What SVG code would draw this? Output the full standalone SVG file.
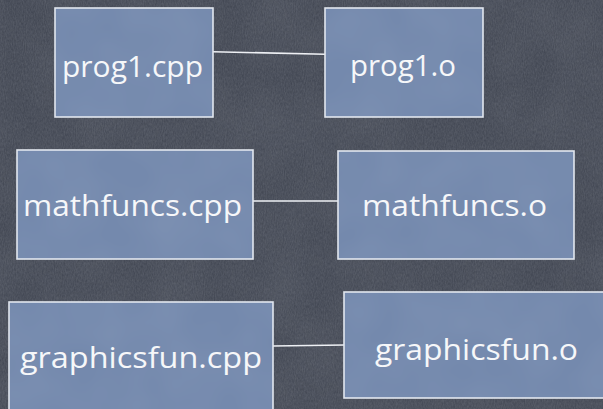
<svg xmlns="http://www.w3.org/2000/svg" width="603" height="409" viewBox="0 0 603 409">
  <defs>
    <!-- chalkboard grain -->
    <filter id="grain" x="0" y="0" width="100%" height="100%">
      <feTurbulence type="fractalNoise" baseFrequency="0.9 0.35" numOctaves="3" seed="4" result="n"/>
      <feColorMatrix in="n" type="matrix" values="0 0 0 0 0.82  0 0 0 0 0.85  0 0 0 0 0.9  0 0 0 0.16 -0.02"/>
    </filter>
    <filter id="mottle" x="0" y="0" width="100%" height="100%">
      <feTurbulence type="fractalNoise" baseFrequency="0.02" numOctaves="2" seed="9" result="m"/>
      <feColorMatrix in="m" type="matrix" values="0 0 0 0 0.95  0 0 0 0 0.97  0 0 0 0 1  0 0 0 0.08 -0.02"/>
    </filter>
    <style>
      .box { fill: #7489ad; stroke: #e2e6ee; stroke-width: 1.6; }
      .label { fill: #f6f7f9; font-family: "Open Sans", "Liberation Sans", sans-serif; font-size: 30px; text-anchor: start; }
      .wire { stroke: #eef0f4; stroke-width: 1.6; fill: none; }
    </style>
  </defs>

  <!-- background -->
  <rect x="0" y="0" width="603" height="409" fill="#414652"/>
  <rect x="0" y="0" width="603" height="409" filter="url(#grain)"/>

  <!-- connectors -->
  <g id="connectors">
    <line class="wire" x1="213" y1="51.7" x2="325" y2="54.3"/>
    <line class="wire" x1="253" y1="201" x2="338" y2="201"/>
    <line class="wire" x1="273" y1="346" x2="344" y2="345"/>
  </g>

  <g id="prog1-cpp">
    <rect class="box" x="55" y="8" width="158" height="109"/>
    <text class="label" x="62" y="77" textLength="141" lengthAdjust="spacingAndGlyphs">prog1.cpp</text>
  </g>

  <g id="prog1-o">
    <rect class="box" x="325" y="8" width="158" height="109"/>
    <text class="label" x="350" y="76" textLength="106" lengthAdjust="spacingAndGlyphs">prog1.o</text>
  </g>

  <g id="mathfuncs-cpp">
    <rect class="box" x="17" y="150" width="236" height="109"/>
    <text class="label" x="23" y="216" textLength="219" lengthAdjust="spacingAndGlyphs">mathfuncs.cpp</text>
  </g>

  <g id="mathfuncs-o">
    <rect class="box" x="338" y="151" width="236" height="108"/>
    <text class="label" x="362" y="216" textLength="185" lengthAdjust="spacingAndGlyphs">mathfuncs.o</text>
  </g>

  <g id="graphicsfun-cpp">
    <rect class="box" x="9" y="302" width="264" height="120"/>
    <text class="label" x="20" y="368" textLength="242" lengthAdjust="spacingAndGlyphs">graphicsfun.cpp</text>
  </g>

  <g id="graphicsfun-o">
    <rect class="box" x="344" y="292" width="270" height="106"/>
    <text class="label" x="375" y="360" textLength="203" lengthAdjust="spacingAndGlyphs">graphicsfun.o</text>
  </g>

  <!-- soft surface wash over the whole board -->
  <rect x="0" y="0" width="603" height="409" filter="url(#mottle)" pointer-events="none"/>
</svg>
